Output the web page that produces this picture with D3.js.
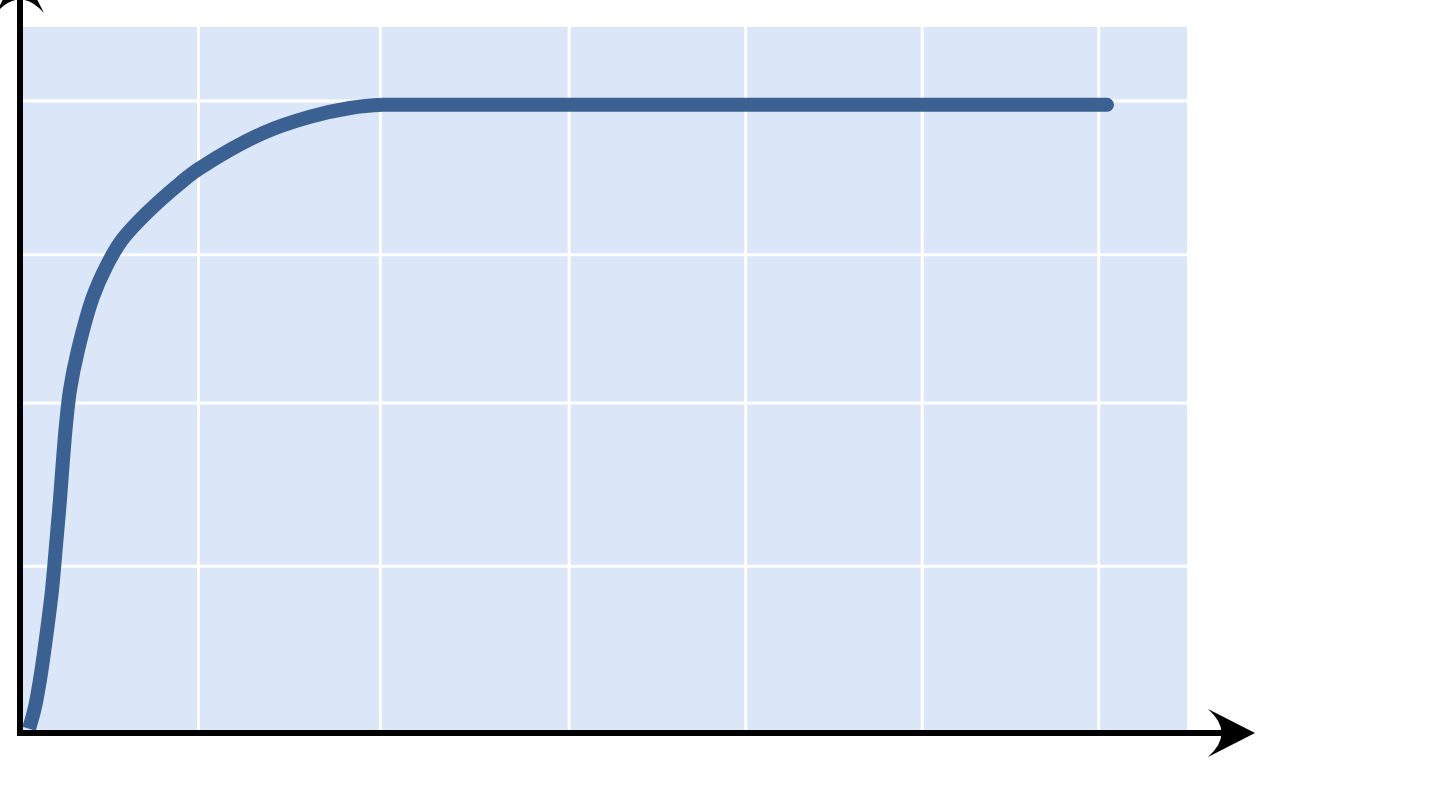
<!DOCTYPE html>
<html>
<head>
<meta charset="utf-8">
<script src="https://cdn.jsdelivr.net/npm/d3@7"></script>
<style>
html, body { margin: 0; padding: 0; background: #fff; overflow: hidden; }
</style>
</head>
<body>
<div id="chart"></div>
<script>
// ---DATA---//

var xValues = [0.40, 0.74, 1.08, 1.42, 1.70, 1.93, 2.15, 2.32, 2.49, 2.72, 3.17, 4.02, 4.82, 5.67, 7.08, 8.95, 10.08, 13.65, 16.32, 18.58, 20.45, 22.0, 61.47];
var yValues = [0.002, 0.037, 0.091, 0.159, 0.223, 0.295, 0.366, 0.430, 0.486, 0.542, 0.605, 0.690, 0.741, 0.781, 0.824, 0.871, 0.895, 0.951, 0.977, 0.991, 0.996, 0.996, 0.996];

var xGridValues = [10, 20.3, 31, 41, 51, 61];
var yGridValues = [0.261, 0.521, 0.757, 1.002];

// ---SETTINGS---//

var width = 1440;
var height = 794;

var xDomain = [0, 66];
var yDomain = [0, 1.12];

var plotLeft = 22;
var plotRight = 1187;
var plotTop = 27;
var plotBottom = 730;

var panelColor = "#dbe7f8";
var lineColor = "#3a6192";

// ---SCALES---//

var x = d3.scaleLinear().domain(xDomain).range([plotLeft, plotRight]);
var y = d3.scaleLinear().domain(yDomain).range([plotBottom, plotTop]);

var svg = d3.select("#chart").append("svg") //
.attr("width", width) //
.attr("height", height);

// panel
svg.append("rect") //
.attr("x", x(xDomain[0])) //
.attr("y", y(yDomain[1])) //
.attr("width", x(xDomain[1]) - x(xDomain[0])) //
.attr("height", y(yDomain[0]) - y(yDomain[1])) //
.attr("fill", panelColor);

// grid
svg.append("g").attr("class", "xGrid").selectAll("line").data(xGridValues).enter().append("line") //
.attr("x1", function(d) { return x(d); }) //
.attr("x2", function(d) { return x(d); }) //
.attr("y1", y(yDomain[1])) //
.attr("y2", y(yDomain[0])) //
.attr("stroke", "#fff") //
.attr("stroke-width", 3);

svg.append("g").attr("class", "yGrid").selectAll("line").data(yGridValues).enter().append("line") //
.attr("x1", x(xDomain[0])) //
.attr("x2", x(xDomain[1])) //
.attr("y1", function(d) { return y(d); }) //
.attr("y2", function(d) { return y(d); }) //
.attr("stroke", "#fff") //
.attr("stroke-width", 3);

// ---CURVE---//

var points = xValues.map(function(d, i) {
	return [ d, yValues[i] ];
});

var line = d3.line() //
.x(function(d) { return x(d[0]); }) //
.y(function(d) { return y(d[1]); }) //
.curve(d3.curveCatmullRom.alpha(0.5));

svg.append("path") //
.datum(points) //
.attr("d", line) //
.attr("fill", "none") //
.attr("stroke", lineColor) //
.attr("stroke-width", 14) //
.attr("stroke-linecap", "butt") //
.attr("stroke-linejoin", "round");

// ---AXES---//

var axisX = plotLeft - 2;
var axisY = plotBottom + 3;

svg.append("line") //
.attr("x1", axisX - 3) //
.attr("x2", 1235) //
.attr("y1", axisY) //
.attr("y2", axisY) //
.attr("stroke", "#000") //
.attr("stroke-width", 6);

svg.append("line") //
.attr("x1", axisX) //
.attr("x2", axisX) //
.attr("y1", axisY + 3) //
.attr("y2", -10) //
.attr("stroke", "#000") //
.attr("stroke-width", 6);

// arrow heads
var tipX = 1255;
svg.append("path") //
.attr("d", "M" + tipX + "," + axisY + //
" L" + (tipX - 47) + "," + (axisY - 24) + //
" Q" + (tipX - 20) + "," + axisY + " " + (tipX - 47) + "," + (axisY + 24) + " Z") //
.attr("fill", "#000");

var tipY = -34;
svg.append("path") //
.attr("d", "M" + axisX + "," + tipY + //
" L" + (axisX - 24) + "," + (tipY + 47) + //
" Q" + axisX + "," + (tipY + 20) + " " + (axisX + 24) + "," + (tipY + 47) + " Z") //
.attr("fill", "#000");
</script>
</body>
</html>
